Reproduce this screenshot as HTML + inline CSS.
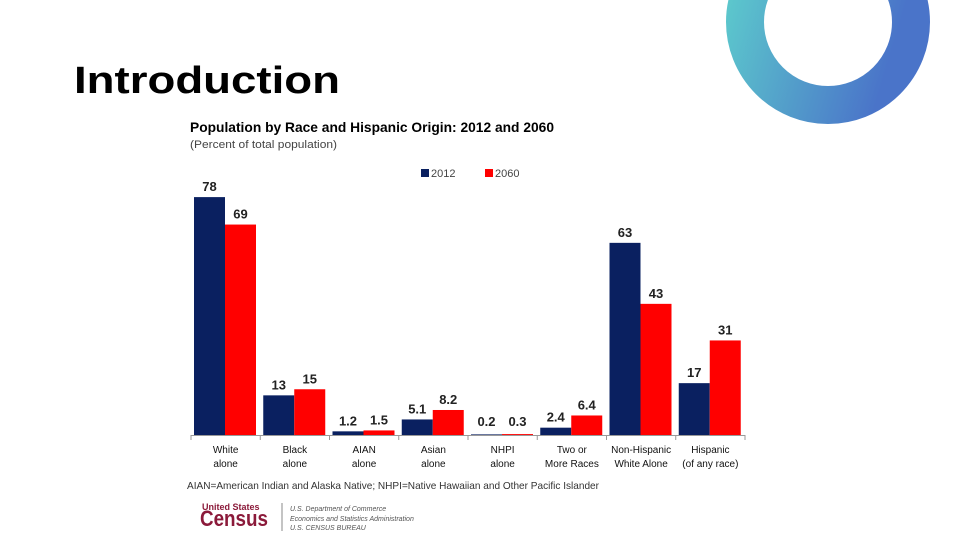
<!DOCTYPE html>
<html><head><meta charset="utf-8"><style>
body{margin:0;background:#fff;}
#wrap{position:relative;width:960px;height:540px;overflow:hidden;font-family:"Liberation Sans",sans-serif;}
</style></head><body>
<div id="wrap">
<svg width="960" height="540" style="position:absolute;left:0;top:0">
<defs><linearGradient id="rg" x1="0" y1="0" x2="1" y2="0.3"><stop offset="0" stop-color="#5cc8cc"/><stop offset="1" stop-color="#4a74c9"/></linearGradient></defs>
<circle cx="828" cy="22" r="83" fill="none" stroke="url(#rg)" stroke-width="38"/>
<text x="74" y="93" font-size="38" font-weight="bold" font-family="Liberation Sans, sans-serif" fill="#000" textLength="266" lengthAdjust="spacingAndGlyphs">Introduction</text>
<g id="chart"></g>
</svg>
</div>
<script>
const categories=[["White","alone"],["Black","alone"],["AIAN","alone"],["Asian","alone"],["NHPI","alone"],["Two or","More Races"],["Non-Hispanic","White Alone"],["Hispanic","(of any race)"]];
const values2012=[78,13,1.2,5.1,0.2,2.4,63,17];
const values2060=[69,15,1.5,8.2,0.3,6.4,43,31];
const labels2012=["78","13","1.2","5.1","0.2","2.4","63","17"];
const labels2060=["69","15","1.5","8.2","0.3","6.4","43","31"];
const NS="http://www.w3.org/2000/svg";
const g=document.getElementById('chart');
const x0=191,x1=745,base=435,scale=3.05,gw=(x1-x0)/categories.length,bw=31;
const y=v=>base-v*scale;
function mk(t,a,txt){const e=document.createElementNS(NS,t);for(const k in a)e.setAttribute(k,a[k]);if(txt!=null)e.textContent=txt;g.appendChild(e);return e;}
const F="Liberation Sans, sans-serif";
let e;
e=mk('text',{x:190,y:132,'font-size':14,'font-weight':'bold','font-family':F,fill:'#000',textLength:364,lengthAdjust:'spacingAndGlyphs'},'Population by Race and Hispanic Origin: 2012 and 2060');


e=mk('text',{x:190,y:148,'font-size':11,'font-family':F,fill:'#444',textLength:147,lengthAdjust:'spacingAndGlyphs'},'(Percent of total population)');


e=mk('rect',{x:421,y:169,width:8,height:8,fill:'#0a2060'});


e=mk('text',{x:431,y:177,'font-size':11,'font-family':F,fill:'#444'},'2012');


e=mk('rect',{x:485,y:169,width:8,height:8,fill:'#f00'});


e=mk('text',{x:495,y:177,'font-size':11,'font-family':F,fill:'#444'},'2060');


categories.forEach((c,i)=>{
 const gx=x0+i*gw+3;
 e=mk('rect',{x:gx,y:y(values2012[i]),width:bw,height:values2012[i]*scale,fill:'#0a2060'});
 
 
 e=mk('rect',{x:gx+bw,y:y(values2060[i]),width:bw,height:values2060[i]*scale,fill:'#f00'});
 
 
 e=mk('text',{x:gx+bw/2,y:Math.min(y(values2012[i])-6,426),'text-anchor':'middle','font-size':13,'font-weight':'bold','font-family':F,fill:'#222'},labels2012[i]);
 
 
 e=mk('text',{x:gx+bw*1.5,y:Math.min(y(values2060[i])-6,426),'text-anchor':'middle','font-size':13,'font-weight':'bold','font-family':F,fill:'#222'},labels2060[i]);
 
 
 e=mk('text',{x:x0+(i+0.5)*gw,y:453,'text-anchor':'middle','font-size':10,'font-family':F,fill:'#111'},c[0]);
 
 
 e=mk('text',{x:x0+(i+0.5)*gw,y:467,'text-anchor':'middle','font-size':10,'font-family':F,fill:'#111'},c[1]);
 
 
});
e=mk('line',{x1:x0,x2:x1,y1:base+0.5,y2:base+0.5,stroke:'#999'});


for(let i=0;i<=categories.length;i++){
 e=mk('line',{x1:x0+i*gw,x2:x0+i*gw,y1:base,y2:base+5,stroke:'#999'});
 
 
}
e=mk('text',{x:187,y:489,'font-size':10.5,'font-family':F,fill:'#333',textLength:412,lengthAdjust:'spacingAndGlyphs'},'AIAN=American Indian and Alaska Native; NHPI=Native Hawaiian and Other Pacific Islander');


e=mk('text',{x:202,y:510,'font-size':9,'font-weight':'bold','font-family':F,fill:'#8b1a3a'},'United States');


e=mk('text',{x:200,y:526,'font-size':22,'font-weight':'bold','font-family':F,fill:'#8b1a3a',textLength:68,lengthAdjust:'spacingAndGlyphs'},'Census');


e=mk('line',{x1:282,x2:282,y1:503,y2:531,stroke:'#888'});


[['U.S. Department of Commerce',511],['Economics and Statistics Administration',521],['U.S. CENSUS BUREAU',530]].forEach(t=>{
 e=mk('text',{x:290,y:t[1],'font-size':7,'font-style':'italic','font-family':F,fill:'#555'},t[0]);
 
 
});
</script>
</body></html>
